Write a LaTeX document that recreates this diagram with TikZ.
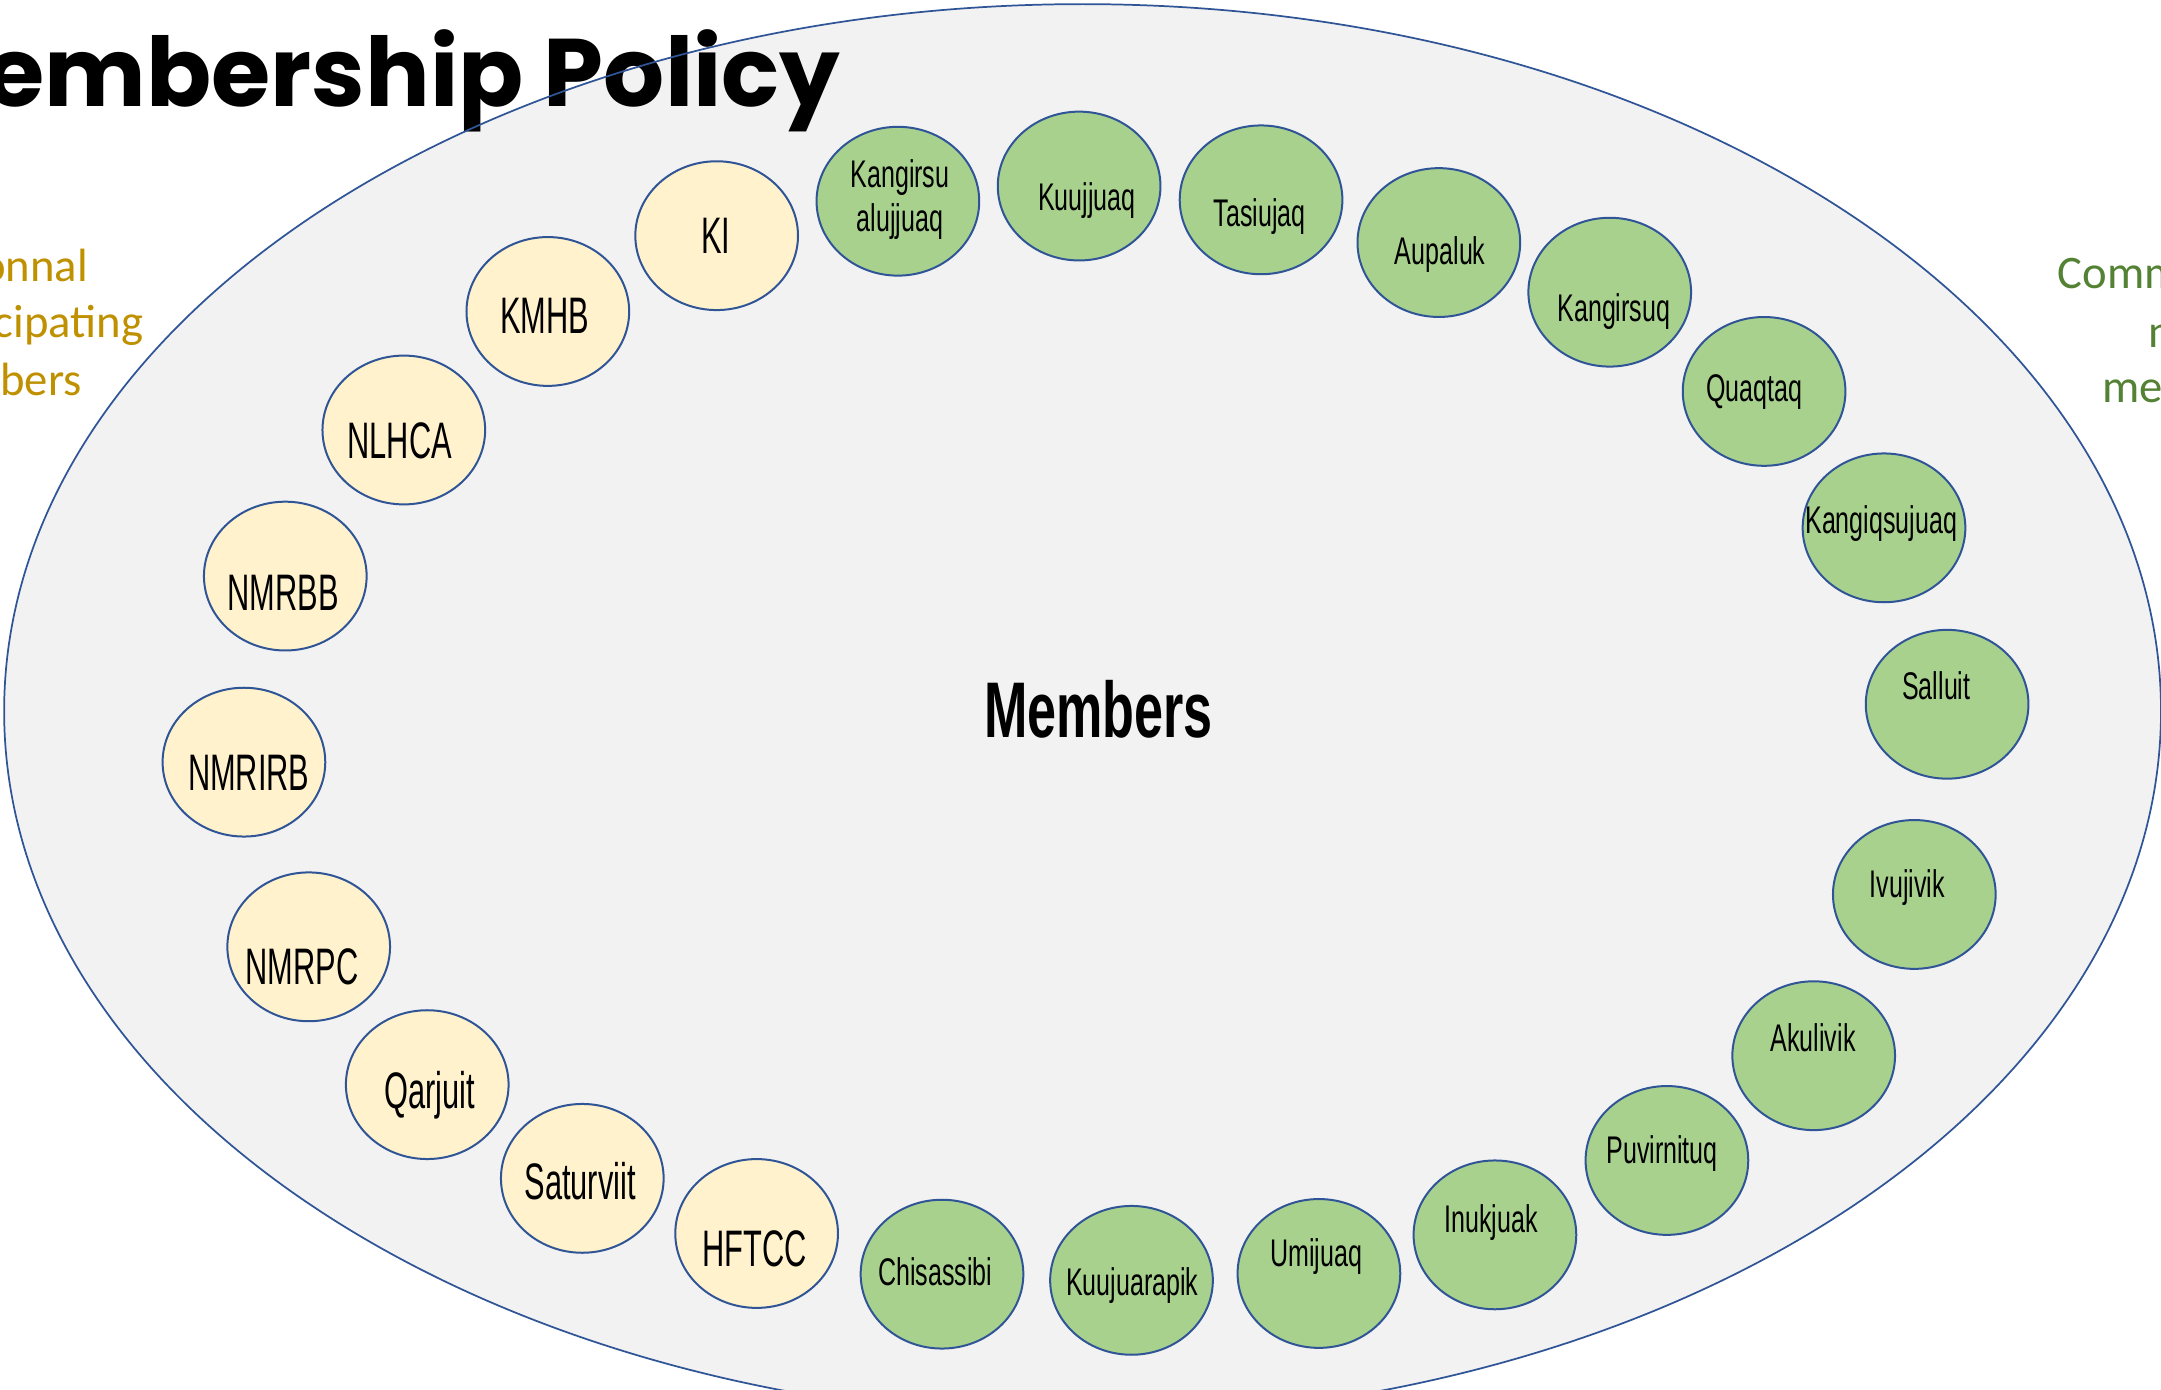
\documentclass[tikz,border=0pt]{standalone}
\usepackage{fontspec}
\usetikzlibrary{shapes.geometric}
\newfontfamily\titlefont{Poppins}
\newfontfamily\sidefont{Carlito}
\newfontfamily\agencyY[FakeStretch=0.60]{Liberation Sans}
\newfontfamily\agencyG[FakeStretch=0.65]{Liberation Sans}
\newfontfamily\agencyM[FakeStretch=0.66]{Liberation Sans}
\definecolor{bgfill}{HTML}{F2F2F2}
\definecolor{edge}{HTML}{2F5597}
\definecolor{yfill}{HTML}{FFF2CC}
\definecolor{gfill}{HTML}{A9D18E}
\definecolor{gold}{HTML}{BF9000}
\definecolor{grn}{HTML}{548235}
\tikzset{
  bub/.style={ellipse, draw=edge, line width=1.5pt, minimum width=122pt, minimum height=111.6pt, inner sep=0pt},
  ybub/.style={bub, fill=yfill},
  gbub/.style={bub, fill=gfill},
  ylbl/.style={anchor=base, inner sep=0pt, font=\agencyY\fontsize{38.5pt}{40pt}\selectfont},
  glbl/.style={anchor=base, inner sep=0pt, font=\agencyG\fontsize{28.9pt}{30pt}\selectfont},
  sidetxt/.style={inner sep=0pt, font=\sidefont\fontsize{35pt}{36pt}\selectfont},
}
\begin{document}
\begin{tikzpicture}[x=1.0336pt, y=-1.0336pt]
\useasboundingbox (0,0) rectangle (1568,1007.85);
% outer ellipse fill
\path[fill=bgfill] (785.5,516) ellipse [x radius=782.5, y radius=513];
% side texts
\node[sidetxt, anchor=base east, text=gold] (lt1) at (64,204) {onnal};
\node[sidetxt, anchor=base east, text=gold] (lt2) at (104,245) {cipating};
\node[sidetxt, anchor=base east, text=gold] (lt3) at (59.5,287) {bers};
\node[sidetxt, anchor=base west, text=grn] (rt1) at (1493,209) {Comm};
\node[sidetxt, anchor=base west, text=grn] (rt2) at (1559,252) {n};
\node[sidetxt, anchor=base west, text=grn] (rt3) at (1525,292) {me};
% title
\node[anchor=base east, inner sep=0pt, font=\titlefont\bfseries\fontsize{72pt}{74pt}\selectfont] (title) at (610,77) {Membership Policy};
% outer ellipse outline
\draw[edge, line width=1.3pt] (785.5,516) ellipse [x radius=782.5, y radius=513];
% centre label
\node[anchor=base, inner sep=0pt, font=\agencyM\bfseries\fontsize{59.2pt}{60pt}\selectfont] (members) at (797,535) {Members};
% yellow bubbles
\node[ybub] (cKI) at (520,171) {};
\node[ybub] (cKMHB) at (397.5,226) {};
\node[ybub] (cNLHCA) at (293,312) {};
\node[ybub] (cNMRBB) at (207,418) {};
\node[ybub] (cNMRIRB) at (177,553) {};
\node[ybub] (cNMRPC) at (224,687) {};
\node[ybub] (cQarjuit) at (310,787) {};
\node[ybub] (cSaturviit) at (422.5,855) {};
\node[ybub] (cHFTCC) at (549,895) {};
\node[ylbl] (tKI) at (519.5,184) {KI};
\node[ylbl] (tKMHB) at (395.4,242) {KMHB};
\node[ylbl] (tNLHCA) at (290,333) {NLHCA};
\node[ylbl] (tNMRBB) at (205.4,442.7) {NMRBB};
\node[ylbl] (tNMRIRB) at (180.5,573.3) {NMRIRB};
\node[ylbl] (tNMRPC) at (219,714) {NMRPC};
\node[ylbl] (tQarjuit) at (312,804) {Qarjuit};
\node[ylbl] (tSaturviit) at (421,870) {Saturviit};
\node[ylbl] (tHFTCC) at (547.4,919.3) {HFTCC};
% green bubbles
\node[gbub] (cChisassibi) at (683.5,924.5) {};
\node[gbub] (cKuujuarapik) at (821,929) {};
\node[gbub] (cUmijuaq) at (957,924) {};
\node[gbub] (cInukjuak) at (1084.7,896) {};
\node[gbub] (cPuvirnituq) at (1209.5,842) {};
\node[gbub] (cAkulivik) at (1316,766) {};
\node[gbub] (cIvujivik) at (1389,649) {};
\node[gbub] (cSalluit) at (1412.8,511) {};
\node[gbub] (cKangiqsujuaq) at (1367,383) {};
\node[gbub] (cQuaqtaq) at (1280,284) {};
\node[gbub] (cKangirsuq) at (1168,212) {};
\node[gbub] (cAupaluk) at (1044,176) {};
\node[gbub] (cTasiujaq) at (915,145) {};
\node[gbub] (cKuujjuaq) at (783,135) {};
\node[gbub] (cKangirsualujjuaq) at (651.5,146) {};
\node[glbl] (tChisassibi) at (678.7,932.6) {Chisassibi};
\node[glbl] (tKuujuarapik) at (821.5,940) {Kuujuarapik};
\node[glbl] (tUmijuaq) at (955,919) {Umijuaq};
\node[glbl] (tInukjuak) at (1082,894) {Inukjuak};
\node[glbl] (tPuvirnituq) at (1206,844) {Puvirnituq};
\node[glbl] (tAkulivik) at (1315.6,763) {Akulivik};
\node[glbl] (tIvujivik) at (1384,651) {Ivujivik};
\node[glbl] (tSalluit) at (1405,507.4) {Salluit};
\node[glbl] (tKangiqsujuaq) at (1365,387) {Kangiqsujuaq};
\node[glbl] (tQuaqtaq) at (1273,291) {Quaqtaq};
\node[glbl] (tKangirsuq) at (1171,233) {Kangirsuq};
\node[glbl] (tAupaluk) at (1045,192) {Aupaluk};
\node[glbl] (tTasiujaq) at (914,164) {Tasiujaq};
\node[glbl] (tKuujjuaq) at (788.6,152.4) {Kuujjuaq};
\node[glbl] (tKangirsuA) at (653,136) {Kangirsu};
\node[glbl] (tKangirsuB) at (653,168) {alujjuaq};
\end{tikzpicture}
\end{document}
